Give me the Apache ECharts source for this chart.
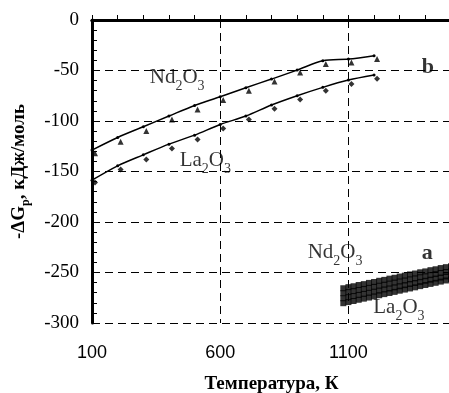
<!DOCTYPE html>
<html>
<head>
<meta charset="utf-8">
<script src="https://cdn.jsdelivr.net/npm/echarts@6/dist/echarts.min.js"></script>
<style>
  html, body { margin: 0; padding: 0; background: #fff; }
  #chart { width: 449px; height: 393px; }
</style>
</head>
<body>
<div id="chart"></div>
<script>
// curves "b"
const temps = [100, 200, 300, 400, 500, 600, 700, 800, 900, 1000, 1100, 1200];
const ndLine = [-128.8, -116.3, -105.7, -95.1, -84.6, -76.0, -67.0, -58.5, -49.6, -40.3, -38.7, -35.3];
const ndPts = [-132.0, -120.6, -110.0, -98.4, -88.5, -79.3, -70.0, -61.0, -52.0, -43.6, -42.0, -38.7];
const laLine = [-158.6, -144.4, -133.5, -122.9, -114.0, -103.4, -95.1, -84.2, -75.0, -66.7, -59.5, -54.5];
const laPts = [-160.9, -148.0, -138.0, -127.2, -118.3, -107.4, -98.4, -87.9, -78.6, -70.0, -63.4, -58.1];

// band "a"
const aTemps = [1080, 1100, 1120, 1140, 1160, 1180, 1200, 1220, 1240, 1260, 1280,
                1300, 1320, 1340, 1360, 1380, 1400, 1420, 1440, 1460, 1480, 1500];
const aNd1 = [-265.6, -264.5, -263.6, -262.4, -261.5, -260.3, -259.4, -258.2, -257.3, -256.1, -255.2,
              -254.0, -253.1, -251.9, -251.0, -249.8, -248.9, -247.7, -246.8, -245.6, -244.7, -243.8];
const aNd2 = [-270.5, -269.4, -268.4, -267.3, -266.3, -265.2, -264.2, -263.1, -262.1, -261.0, -260.0,
              -258.9, -257.9, -256.8, -255.8, -254.7, -253.7, -252.6, -251.6, -250.5, -249.5, -248.3];
const aLa1 = [-275.5, -274.4, -273.3, -272.2, -271.2, -270.1, -269.0, -267.9, -266.8, -265.8, -264.7,
              -263.6, -262.5, -261.4, -260.4, -259.3, -258.2, -257.1, -256.0, -255.0, -253.9, -252.7];
const aLa2 = [-280.4, -279.3, -278.2, -277.0, -275.9, -274.8, -273.7, -272.5, -271.4, -270.3, -269.2,
              -268.0, -266.9, -265.8, -264.7, -263.5, -262.4, -261.3, -260.2, -259.0, -257.9, -256.7];

// annotations: [x, y, text]
const notes = [
  [432, -59.5, '{n|Nd}{s|2}{n|O}{s|3}'],
  [542, -141.7, '{n|La}{s|2}{n|O}{s|3}'],
  [1048, -233, '{n|Nd}{s|2}{n|O}{s|3}'],
  [1297, -287, '{n|La}{s|2}{n|O}{s|3}'],
  [1410, -46.6, '{b|b}'],
  [1407, -231, '{b|a}']
];

const serif = '"Liberation Serif", "Times New Roman", serif';
const zip = (xs, ys) => xs.map((x, i) => [x, ys[i]]);

const rich = {
  n: { fontFamily: serif, fontSize: 21, color: '#000', lineHeight: 26, verticalAlign: 'top' },
  s: { fontFamily: serif, fontSize: 14, color: '#000', lineHeight: 14, verticalAlign: 'bottom' },
  b: { fontFamily: serif, fontSize: 22, fontWeight: 'bold', color: '#000' }
};

const dashed = { color: '#000', width: 1, type: [8, 5] };

const bandSeries = [aNd1, aNd2, aLa1, aLa2].map(row => ({
  type: 'scatter',
  data: zip(aTemps, row),
  symbol: 'rect',
  symbolSize: [6, 6],
  itemStyle: { color: '#000' },
  silent: true
}));

const chart = echarts.init(document.getElementById('chart'));
chart.setOption({
  animation: false,
  backgroundColor: '#fff',
  grid: { left: 92, top: 20, right: -2, bottom: 70, outerBoundsMode: 'none', containLabel: false },
  xAxis: [{
    type: 'value',
    min: 100,
    max: 1500,
    interval: 500,
    name: 'Температура, К',
    nameLocation: 'middle',
    nameGap: 52,
    nameTextStyle: { fontFamily: serif, fontSize: 19, fontWeight: 'bold', color: '#000' },
    axisLine: { lineStyle: { color: '#000', width: 3 } },
    axisTick: { inside: true, length: 5, lineStyle: { color: '#000', width: 1 } },
    minorTick: { show: true, splitNumber: 5, length: 5, lineStyle: { color: '#000', width: 1 } },
    axisLabel: {
      showMaxLabel: false, margin: 21, formatter: v => String(v),
      fontFamily: '"Liberation Sans", Arial, sans-serif', fontSize: 18, color: '#000'
    },
    splitLine: { show: true, lineStyle: dashed }
  }, {
    type: 'value',
    position: 'top',
    min: 100,
    max: 1500,
    axisLine: { show: true, lineStyle: { color: '#000', width: 3 } },
    axisTick: { show: false },
    axisLabel: { show: false },
    splitLine: { show: false }
  }],
  yAxis: {
    type: 'value',
    min: -300,
    max: 0,
    interval: 50,
    name: '{n|-ΔG}{s|p}{n|, кДж/моль}',
    nameLocation: 'middle',
    nameGap: 60,
    nameTextStyle: {
      rich: {
        n: { fontFamily: serif, fontSize: 19, fontWeight: 'bold', color: '#000', lineHeight: 22, verticalAlign: 'top' },
        s: { fontFamily: serif, fontSize: 12, fontWeight: 'bold', color: '#000', lineHeight: 12, verticalAlign: 'bottom' }
      }
    },
    axisLine: { show: true, lineStyle: { color: '#000', width: 3 } },
    axisTick: { show: true, inside: true, length: 5, lineStyle: { color: '#000', width: 1 } },
    minorTick: { show: true, splitNumber: 5, length: 5, lineStyle: { color: '#000', width: 1 } },
    axisLabel: { margin: 13, fontFamily: serif, fontSize: 19, color: '#000' },
    splitLine: { show: true, lineStyle: dashed }
  },
  series: [
    {
      type: 'line', data: zip(temps, ndLine), smooth: 0.3,
      symbol: 'circle', symbolSize: 3, itemStyle: { color: '#000' },
      lineStyle: { color: '#000', width: 1.5 }, silent: true
    },
    {
      type: 'scatter', data: zip(temps, ndPts), symbol: 'triangle', symbolSize: 6,
      symbolOffset: [3, 0], itemStyle: { color: '#000' }, silent: true
    },
    {
      type: 'line', data: zip(temps, laLine), smooth: 0.3,
      symbol: 'circle', symbolSize: 3, itemStyle: { color: '#000' },
      lineStyle: { color: '#000', width: 1.5 }, silent: true
    },
    {
      type: 'scatter', data: zip(temps, laPts), symbol: 'diamond', symbolSize: 6,
      symbolOffset: [3, 0], itemStyle: { color: '#000' }, silent: true
    },
    ...bandSeries,
    {
      type: 'scatter',
      data: notes.map(d => ({ value: [d[0], d[1]], text: d[2] })),
      symbolSize: 0,
      silent: true,
      z: 10,
      label: {
        show: true,
        position: 'inside',
        formatter: p => p.data.text,
        rich: rich
      }
    }
  ]
});
</script>
</body>
</html>
